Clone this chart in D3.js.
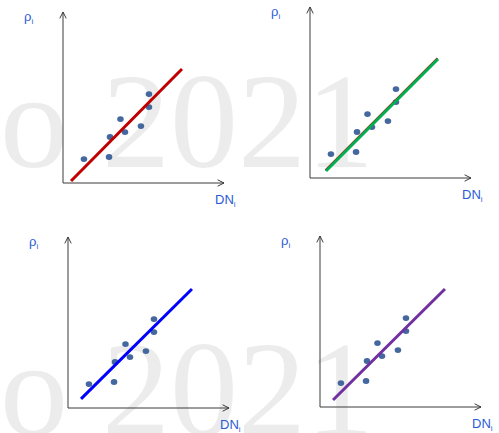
<!DOCTYPE html>
<html>
<head>
<meta charset="utf-8">
<script src="https://cdn.jsdelivr.net/npm/d3@7"></script>
<style>
  html, body { margin: 0; padding: 0; background: #fff; }
  svg { display: block; }
</style>
</head>
<body>
<script>
// scatter points (same in all four panels), arbitrary units 0..10
const xVals = [1.3, 2.86, 2.92, 3.57, 3.85, 4.84, 5.34, 5.34];
const yVals = [1.4, 1.52, 2.69, 3.74, 2.98, 3.33, 4.44, 5.2];

// fitted line per panel: [x0, y0, x1, y1]
const lineColors = ["#c00000", "#00b050", "#0000ff", "#7030a0"];
const fitLines = [
    [0.5, 0.12, 7.39, 6.67],
    [0.99, 0.41, 7.95, 6.96],
    [0.81, 0.53, 7.7, 6.96],
    [0.81, 0.41, 7.76, 6.9]
];
// faint red trace left under the green line
const traceLine = [0.96, 0.45, 7.92, 7.0];

const yLabel = "ρ";
const xLabel = "DN";
const subLabel = "i";
const watermark = "o 2021";

// panel origins (where the two axes meet)
const origins = [[63, 183], [310, 178], [68, 408], [320, 407]];

let width = 499, height = 433;
let axisW = 161, axisH = 171;

let svg = d3.select("body")
    .append("svg")
    .attr("width", width)
    .attr("height", height);

// watermark text in the background
[167, 435].forEach(y => {
    svg.append("text")
        .attr("x", 0)
        .attr("y", y)
        .style("font-family", "Liberation Serif")
        .style("font-size", "136px")
        .style("fill", "#ececec")
        .text(watermark);
});

let xScale = d3.scaleLinear().domain([0, 10]).range([0, axisW]);
let yScale = d3.scaleLinear().domain([0, 10]).range([0, -axisH]);

let defs = svg.append("defs");
defs.append("marker")
    .attr("id", "arrow")
    .attr("viewBox", "0 0 10 10")
    .attr("refX", 9)
    .attr("refY", 5)
    .attr("markerWidth", 8)
    .attr("markerHeight", 8)
    .attr("markerUnits", "userSpaceOnUse")
    .attr("orient", "auto")
    .append("path")
    .attr("d", "M1,1 L9,5 L1,9")
    .attr("fill", "none")
    .attr("stroke", "#333")
    .attr("stroke-width", 1.2);

origins.forEach((o, i) => {
    let g = svg.append("g")
        .attr("transform", "translate(" + o[0] + "," + o[1] + ")");

    // axes with open arrowheads
    g.append("line")
        .attr("x1", 0).attr("y1", 0)
        .attr("x2", xScale(10)).attr("y2", 0)
        .attr("stroke", "#3a3a3a").attr("stroke-width", 1)
        .attr("marker-end", "url(#arrow)");
    g.append("line")
        .attr("x1", 0).attr("y1", 0)
        .attr("x2", 0).attr("y2", yScale(10))
        .attr("stroke", "#3a3a3a").attr("stroke-width", 1)
        .attr("marker-end", "url(#arrow)");

    // axis titles
    let yt = g.append("text")
        .attr("x", -39)
        .attr("y", -162)
        .style("font-family", "Liberation Sans")
        .style("font-size", "13px")
        .style("fill", "#2a5bd7")
        .text(yLabel);
    yt.append("tspan").attr("dy", 3).style("font-size", "8px").text(subLabel);

    let xt = g.append("text")
        .attr("x", 152)
        .attr("y", 21)
        .style("font-family", "Liberation Sans")
        .style("font-size", "13px")
        .style("fill", "#2a5bd7")
        .text(xLabel);
    xt.append("tspan").attr("dy", 3).style("font-size", "8px").text(subLabel);

    // points
    g.selectAll("ellipse")
        .data(xVals.map((x, k) => [x, yVals[k]]))
        .enter()
        .append("ellipse")
        .attr("cx", d => xScale(d[0]))
        .attr("cy", d => yScale(d[1]))
        .attr("rx", 3.3)
        .attr("ry", 2.9)
        .attr("fill", "#44679e");

    if (i === 1) {
        g.append("line")
            .attr("x1", xScale(traceLine[0])).attr("y1", yScale(traceLine[1]))
            .attr("x2", xScale(traceLine[2])).attr("y2", yScale(traceLine[3]))
            .attr("stroke", "#c00000").attr("stroke-width", 2);
    }

    // fitted line
    let l = fitLines[i];
    g.append("line")
        .attr("x1", xScale(l[0])).attr("y1", yScale(l[1]))
        .attr("x2", xScale(l[2])).attr("y2", yScale(l[3]))
        .attr("stroke", lineColors[i])
        .attr("stroke-width", 3);
});
</script>
</body>
</html>
